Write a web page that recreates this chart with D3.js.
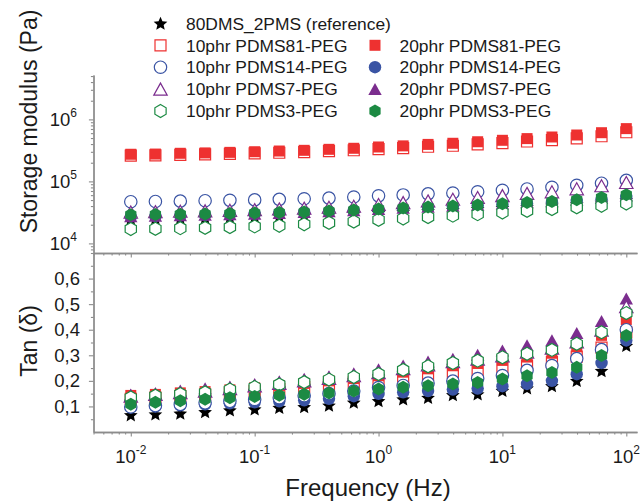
<!DOCTYPE html>
<html><head><meta charset="utf-8">
<script src="https://cdn.jsdelivr.net/npm/d3@7"></script>
<style>
html,body{margin:0;padding:0;background:#fff;}
svg{display:block;font-family:"Liberation Sans",Arial,Helvetica,sans-serif;}
</style></head>
<body><svg id="chart" width="641" height="504"></svg>
<script>
// ---------------- DATA ----------------
const frequency = [0.01, 0.0158, 0.0251, 0.0398, 0.0631, 0.1, 0.158, 0.251, 0.398, 0.631, 1, 1.58, 2.51, 3.98, 6.31, 10, 15.8, 25.1, 39.8, 63.1, 100];

const xTickDecades = [-2, -1, 0, 1, 2];
const yTopDecades = [4, 5, 6];
const yBottomTicks = [0.1, 0.2, 0.3, 0.4, 0.5, 0.6];

const seriesNames = ["80DMS_2PMS (reference)", "10phr PDMS81-PEG", "20phr PDMS81-PEG", "10phr PDMS14-PEG", "20phr PDMS14-PEG", "10phr PDMS7-PEG", "20phr PDMS7-PEG", "10phr PDMS3-PEG", "20phr PDMS3-PEG"];

// Storage modulus (Pa)
const G_ref    = [2.55e4, 2.57e4, 2.6e4, 2.63e4, 2.67e4, 2.72e4, 2.78e4, 2.85e4, 2.93e4, 3.02e4, 3.13e4, 3.23e4, 3.35e4, 3.48e4, 3.62e4, 3.78e4, 3.95e4, 4.12e4, 4.32e4, 4.6e4, 5.0e4];
const G_10_81  = [2.6e5, 2.62e5, 2.68e5, 2.72e5, 2.77e5, 2.83e5, 2.9e5, 2.97e5, 3.07e5, 3.18e5, 3.32e5, 3.45e5, 3.62e5, 3.76e5, 3.95e5, 4.15e5, 4.4e5, 4.62e5, 4.95e5, 5.35e5, 6.2e5];
const G_20_81  = [2.74e5, 2.76e5, 2.84e5, 2.88e5, 2.94e5, 3.01e5, 3.09e5, 3.17e5, 3.29e5, 3.42e5, 3.59e5, 3.74e5, 3.95e5, 4.12e5, 4.36e5, 4.6e5, 4.9e5, 5.2e5, 5.6e5, 6.1e5, 7.1e5];
const G_10_14  = [4.7e4, 4.75e4, 4.8e4, 4.88e4, 4.95e4, 5.03e4, 5.13e4, 5.24e4, 5.38e4, 5.6e4, 5.85e4, 6.05e4, 6.3e4, 6.5e4, 6.8e4, 7.2e4, 7.55e4, 8.05e4, 8.65e4, 9.35e4, 1.04e5];
const G_20_14  = [2.7e4, 2.75e4, 2.8e4, 2.86e4, 2.92e4, 3.0e4, 3.08e4, 3.18e4, 3.28e4, 3.4e4, 3.5e4, 3.62e4, 3.78e4, 3.92e4, 4.08e4, 4.25e4, 4.42e4, 4.62e4, 4.85e4, 5.15e4, 5.6e4];
const G_10_7   = [3.2e4, 3.25e4, 3.3e4, 3.35e4, 3.42e4, 3.5e4, 3.6e4, 3.7e4, 3.83e4, 3.98e4, 4.25e4, 4.55e4, 4.85e4, 5.15e4, 5.5e4, 5.9e4, 6.4e4, 6.8e4, 7.6e4, 8.5e4, 9.6e4];
const G_20_7   = [2.75e4, 2.8e4, 2.85e4, 2.9e4, 2.95e4, 3.02e4, 3.1e4, 3.2e4, 3.3e4, 3.42e4, 3.6e4, 3.75e4, 3.9e4, 4.05e4, 4.2e4, 4.4e4, 4.6e4, 4.8e4, 5.05e4, 5.4e4, 5.9e4];
const G_10_3   = [1.71e4, 1.72e4, 1.76e4, 1.78e4, 1.83e4, 1.88e4, 1.93e4, 2.04e4, 2.15e4, 2.25e4, 2.4e4, 2.52e4, 2.66e4, 2.8e4, 2.96e4, 3.15e4, 3.35e4, 3.58e4, 3.82e4, 4.05e4, 4.4e4];
const G_20_3   = [2.89e4, 2.92e4, 2.95e4, 2.98e4, 3.03e4, 3.08e4, 3.15e4, 3.22e4, 3.32e4, 3.45e4, 3.6e4, 3.72e4, 3.86e4, 4.02e4, 4.18e4, 4.35e4, 4.55e4, 4.75e4, 5.05e4, 5.5e4, 6.07e4];

// Tan (delta)
const T_ref    = [0.067, 0.07, 0.073, 0.079, 0.086, 0.09, 0.096, 0.099, 0.105, 0.116, 0.122, 0.129, 0.135, 0.146, 0.149, 0.162, 0.172, 0.181, 0.201, 0.24, 0.338];
const T_10_81  = [0.13, 0.135, 0.14, 0.146, 0.153, 0.16, 0.168, 0.176, 0.185, 0.194, 0.203, 0.214, 0.223, 0.232, 0.24, 0.25, 0.26, 0.273, 0.295, 0.33, 0.39];
const T_20_81  = [0.143, 0.147, 0.153, 0.158, 0.165, 0.173, 0.182, 0.19, 0.2, 0.209, 0.22, 0.234, 0.247, 0.259, 0.268, 0.28, 0.293, 0.308, 0.333, 0.378, 0.44];
const T_10_14  = [0.098, 0.103, 0.108, 0.114, 0.12, 0.127, 0.134, 0.142, 0.15, 0.16, 0.174, 0.182, 0.191, 0.199, 0.209, 0.221, 0.241, 0.26, 0.287, 0.322, 0.4];
const T_20_14  = [0.096, 0.1, 0.104, 0.108, 0.112, 0.116, 0.12, 0.124, 0.13, 0.14, 0.149, 0.155, 0.16, 0.166, 0.17, 0.179, 0.188, 0.2, 0.226, 0.27, 0.358];
const T_10_7   = [0.14, 0.147, 0.154, 0.16, 0.17, 0.18, 0.19, 0.2, 0.21, 0.22, 0.232, 0.248, 0.262, 0.275, 0.285, 0.298, 0.312, 0.328, 0.352, 0.398, 0.49];
const T_20_7   = [0.147, 0.152, 0.162, 0.171, 0.178, 0.188, 0.198, 0.208, 0.218, 0.23, 0.245, 0.26, 0.276, 0.286, 0.302, 0.319, 0.339, 0.359, 0.387, 0.434, 0.522];
const T_10_3   = [0.135, 0.142, 0.149, 0.155, 0.166, 0.176, 0.186, 0.195, 0.205, 0.215, 0.227, 0.243, 0.257, 0.27, 0.279, 0.292, 0.306, 0.321, 0.345, 0.39, 0.465];
const T_20_3   = [0.109, 0.116, 0.122, 0.128, 0.134, 0.139, 0.144, 0.148, 0.153, 0.16, 0.168, 0.175, 0.181, 0.188, 0.194, 0.207, 0.22, 0.233, 0.253, 0.299, 0.377];

// ---------------- STYLE ----------------
const RED = "#ee3130", BLUE = "#3a54a4", PURPLE = "#7b2d8e", GREEN = "#1c8a43", BLACK = "#000";
const AXIS = "#8c8c8c", TEXT = "#1a1a1a";

// series in drawing order
const series = [
  {name: seriesNames[0], shape: "star",     filled: true,  color: BLACK,  g: G_ref,   t: T_ref},
  {name: seriesNames[1], shape: "square",   filled: false, color: RED,    g: G_10_81, t: T_10_81},
  {name: seriesNames[2], shape: "square",   filled: true,  color: RED,    g: G_20_81, t: T_20_81},
  {name: seriesNames[4], shape: "circle",   filled: true,  color: BLUE,   g: G_20_14, t: T_20_14},
  {name: seriesNames[3], shape: "circle",   filled: false, color: BLUE,   g: G_10_14, t: T_10_14},
  {name: seriesNames[6], shape: "triangle", filled: true,  color: PURPLE, g: G_20_7,  t: T_20_7},
  {name: seriesNames[5], shape: "triangle", filled: false, color: PURPLE, g: G_10_7,  t: T_10_7},
  {name: seriesNames[7], shape: "hexagon",  filled: false, color: GREEN,  g: G_10_3,  t: T_10_3},
  {name: seriesNames[8], shape: "hexagon",  filled: true,  color: GREEN,  g: G_20_3,  t: T_20_3}
];

function symbolPath(shape) {
  if (shape === "square") { const s = 5.5; return `M${-s},${-s}H${s}V${s}H${-s}Z`; }
  if (shape === "circle") { const r = 6.2; return `M${r},0A${r},${r},0,1,1,${-r},0A${r},${r},0,1,1,${r},0Z`; }
  if (shape === "triangle") { return "M0,-6L6.7,6L-6.7,6Z"; }
  if (shape === "hexagon") {
    const r = 6.5, pts = [];
    for (let i = 0; i < 6; i++) { const a = (-90 + 60 * i) * Math.PI / 180; pts.push([r * Math.cos(a), r * Math.sin(a)]); }
    return "M" + pts.map(p => p[0].toFixed(2) + "," + p[1].toFixed(2)).join("L") + "Z";
  }
  if (shape === "star") {
    const R = 7.2, r = 3.3, pts = [];
    for (let i = 0; i < 10; i++) { const rad = i % 2 ? r : R; const a = (-90 + 36 * i) * Math.PI / 180; pts.push([rad * Math.cos(a), rad * Math.sin(a) + 0.7]); }
    return "M" + pts.map(p => p[0].toFixed(2) + "," + p[1].toFixed(2)).join("L") + "Z";
  }
}
function styleSym(sel, s) {
  sel.attr("d", symbolPath(s.shape))
     .attr("fill", s.filled ? s.color : "#fff")
     .attr("stroke", s.filled ? "none" : s.color)
     .attr("stroke-width", s.filled ? 0 : 1.2);
}

// ---------------- SCALES ----------------
const left = 93.5, right = 637;
const topY0 = 75, midY = 253, botY = 432;
const x = d3.scaleLog().domain([0.005, 122]).range([left, right]);
const yTop = d3.scaleLog().domain([7e3, 5.2e6]).range([midY, topY0]);
const yBot = d3.scaleLinear().domain([0, 0.7]).range([botY, midY]);

const svg = d3.select("#chart");
svg.append("rect").attr("width", 641).attr("height", 504).attr("fill", "#fff");

// ---------------- AXES ----------------
function minorLog(lo, hi) {
  const out = [];
  for (let e = Math.floor(Math.log10(lo)); e <= Math.ceil(Math.log10(hi)); e++)
    for (let m = 2; m <= 9; m++) { const v = m * Math.pow(10, e); if (v >= lo && v <= hi) out.push(v); }
  return out;
}
const xMajor = xTickDecades.map(d => Math.pow(10, d));
const xMinor = minorLog(0.005, 122);

function styleAxis(g) {
  g.select(".domain").attr("stroke", AXIS).attr("stroke-width", 1.3);
  g.selectAll(".tick line").attr("stroke", AXIS).attr("stroke-width", 1.1);
  g.selectAll(".tick text").remove();
}

[midY, botY].forEach(yy => {
  svg.append("g").attr("transform", `translate(0,${yy})`)
    .call(d3.axisBottom(x).tickValues(xMinor).tickSize(2.6).tickSizeOuter(0).tickFormat(""))
    .call(styleAxis);
  svg.append("g").attr("transform", `translate(0,${yy})`)
    .call(d3.axisBottom(x).tickValues(xMajor).tickSize(4.6).tickSizeOuter(0).tickFormat(""))
    .call(styleAxis);
});

// top y axis
svg.append("g").attr("transform", `translate(${left},0)`)
  .call(d3.axisLeft(yTop).tickValues(minorLog(7e3, 5.2e6)).tickSize(2.6).tickSizeOuter(0).tickFormat(""))
  .call(styleAxis);
svg.append("g").attr("transform", `translate(${left},0)`)
  .call(d3.axisLeft(yTop).tickValues(yTopDecades.map(d => Math.pow(10, d))).tickSize(4.6).tickSizeOuter(0).tickFormat(""))
  .call(styleAxis);
// bottom y axis
const yBotMinor = d3.range(1, 14, 2).map(i => i * 0.05);
svg.append("g").attr("transform", `translate(${left},0)`)
  .call(d3.axisLeft(yBot).tickValues(yBotMinor).tickSize(2.6).tickSizeOuter(0).tickFormat(""))
  .call(styleAxis);
svg.append("g").attr("transform", `translate(${left},0)`)
  .call(d3.axisLeft(yBot).tickValues(yBottomTicks).tickSize(4.6).tickSizeOuter(0).tickFormat(""))
  .call(styleAxis);

// tick labels
const LBL = 18.5;
xTickDecades.forEach(d => {
  const t = svg.append("text").attr("x", x(Math.pow(10, d))).attr("y", 462.7)
    .attr("text-anchor", "middle").attr("fill", TEXT).attr("font-size", LBL);
  t.append("tspan").text("10");
  t.append("tspan").attr("dy", -8.5).attr("font-size", 12).text(String(d));
});
yTopDecades.forEach(d => {
  const t = svg.append("text").attr("x", 77).attr("y", yTop(Math.pow(10, d)) + 6.6)
    .attr("text-anchor", "end").attr("fill", TEXT).attr("font-size", LBL);
  t.append("tspan").text("10");
  t.append("tspan").attr("dy", -8.5).attr("font-size", 12).text(String(d));
});
const commaFmt = d3.formatLocale({decimal: ",", thousands: ".", grouping: [3], currency: ["", ""]}).format(".1f");
yBottomTicks.forEach(v => {
  svg.append("text").attr("x", 80).attr("y", yBot(v) + 6.6)
    .attr("text-anchor", "end").attr("fill", TEXT).attr("font-size", LBL).text(commaFmt(v));
});

// axis titles
svg.append("text").attr("transform", "translate(37,121.5) rotate(-90)")
  .attr("text-anchor", "middle").attr("fill", TEXT).attr("font-size", 23).text("Storage modulus (Pa)");
svg.append("text").attr("transform", "translate(37,341) rotate(-90)")
  .attr("text-anchor", "middle").attr("fill", TEXT).attr("font-size", 23).text("Tan (δ)");
svg.append("text").attr("x", 368).attr("y", 496)
  .attr("text-anchor", "middle").attr("fill", TEXT).attr("font-size", 24).text("Frequency (Hz)");

// ---------------- DATA MARKS ----------------
const gTop = svg.append("g"), gBot = svg.append("g");
series.forEach(s => {
  gTop.append("g").selectAll("path").data(frequency.map((f, i) => [f, s.g[i]])).join("path")
    .attr("transform", d => `translate(${x(d[0])},${yTop(d[1])})`).call(styleSym, s);
  gBot.append("g").selectAll("path").data(frequency.map((f, i) => [f, s.t[i]])).join("path")
    .attr("transform", d => `translate(${x(d[0])},${yBot(d[1])})`).call(styleSym, s);
});

// ---------------- LEGEND ----------------
const legendRows = [23.3, 45.3, 67.2, 89.1, 111];
const legendItems = [
  {s: series[0], col: 0, row: 0},
  {s: series[1], col: 0, row: 1}, {s: series[2], col: 1, row: 1},
  {s: series[4], col: 0, row: 2}, {s: series[3], col: 1, row: 2},
  {s: series[6], col: 0, row: 3}, {s: series[5], col: 1, row: 3},
  {s: series[7], col: 0, row: 4}, {s: series[8], col: 1, row: 4}
];
const colSym = [160.5, 375], colText = [186, 399.5];
legendItems.forEach(it => {
  const cy = legendRows[it.row];
  svg.append("path").attr("transform", `translate(${colSym[it.col]},${cy})`).call(styleSym, it.s);
  svg.append("text").attr("x", colText[it.col]).attr("y", cy + 6.2)
    .attr("fill", TEXT).attr("font-size", 17.4).text(it.s.name);
});
</script>
</body></html>
